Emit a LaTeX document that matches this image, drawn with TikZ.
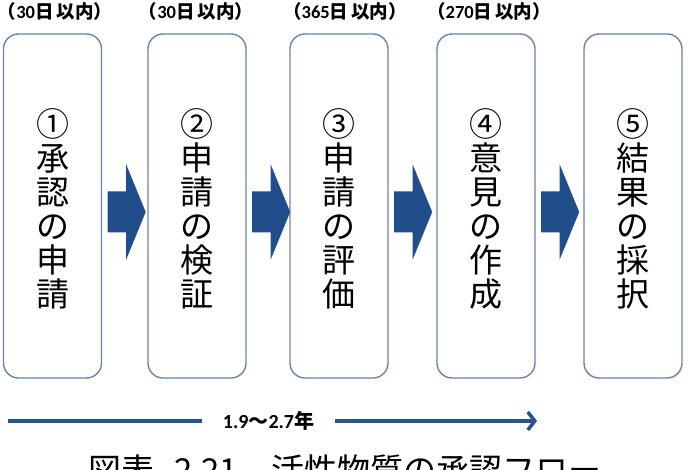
\documentclass[tikz,border=0pt]{standalone}
\usepackage{fontspec}
\usetikzlibrary{calc,arrows.meta}
\setmainfont{Noto Sans CJK JP}
\newfontfamily\latb{Carlito}
\newcommand\dg[1]{{\latb #1}}
\definecolor{arrowblue}{RGB}{32,78,138}
\definecolor{linkblue}{RGB}{40,84,140}
\definecolor{boxline}{RGB}{105,132,172}
\begin{document}
\begin{tikzpicture}[x=1pt,y=-1pt,
  stepbox/.style={draw=boxline, line width=1.4pt, rounded corners=15pt,
    minimum width=98pt, minimum height=344pt, inner sep=0pt, fill=white},
  vtext/.style={align=center, font=\fontsize{33}{34}\selectfont, inner sep=0pt},
  period/.style={font=\bfseries\fontsize{18.5}{20}\selectfont, inner sep=0pt},
  blockarrow/.style={fill=arrowblue},
  spanline/.style={draw=linkblue, line width=3.5pt}]
\clip (0,0) rectangle (690,470);
\useasboundingbox (0,0) rectangle (690,470);

% boxes
\node[stepbox] (b1) at (52.5,206) {};
\node[stepbox] (b2) at (197,206) {};
\node[stepbox] (b3) at (339,206) {};
\node[stepbox] (b4) at (486,206) {};
\node[stepbox] (b5) at (633,206) {};

% box texts
\node[vtext] (t1) at ($(b1.center)+(0,3)$) {①\\承\\認\\の\\申\\請};
\node[vtext] (t2) at ($(b2.center)+(0,3)$) {②\\申\\請\\の\\検\\証};
\node[vtext] (t3) at ($(b3.center)+(0,3)$) {③\\申\\請\\の\\評\\価};
\node[vtext] (t4) at ($(b4.center)+(0,3)$) {④\\意\\見\\の\\作\\成};
\node[vtext] (t5) at ($(b5.center)+(0,3)$) {⑤\\結\\果\\の\\採\\択};

% period labels
\node[period] (p1) at (55,11) {（\dg{30}日\,以内）};
\node[period] (p2) at (196,11) {（\dg{30}日\,以内）};
\node[period] (p3) at (345,11) {（\dg{365}日\,以内）};
\node[period] (p4) at (489,11) {（\dg{270}日\,以内）};

% block arrows between boxes
\foreach \i/\j in {1/2,2/3,3/4,4/5}{
  \coordinate (a\i) at ($(b\i.east)+(5.5,6)$);
  \fill[blockarrow] ($(a\i)+(0,-20.5)$) -- ++(18.5,0) -- ++(0,-27)
    -- ($(a\i)+(38,0)$) -- ($(a\i)+(18.5,47.5)$) -- ++(0,-27)
    -- ($(a\i)+(0,20.5)$) -- cycle;
}

% overall duration arrow
\coordinate (s) at (8,421);
\coordinate (e) at (537,421);
\node[font=\bfseries\fontsize{20}{22}\selectfont, inner xsep=0pt, minimum width=133pt] (yr) at (268.5,421) {\dg{1.9}～\dg{2.7}年};
\draw[spanline] (s) -- (yr.west);
\draw[spanline, -{Straight Barb[length=7pt,width=18pt]}] (yr.east) -- (e);

% caption (cut off by the lower edge, as in the reference)
\node[font=\fontsize{33}{35}\selectfont, inner sep=0pt, anchor=north west] (cap) at (88,455) {図表\hspace{0.6em}2.21\hspace{1em}活性物質の承認フロー};
\end{tikzpicture}
\end{document}
